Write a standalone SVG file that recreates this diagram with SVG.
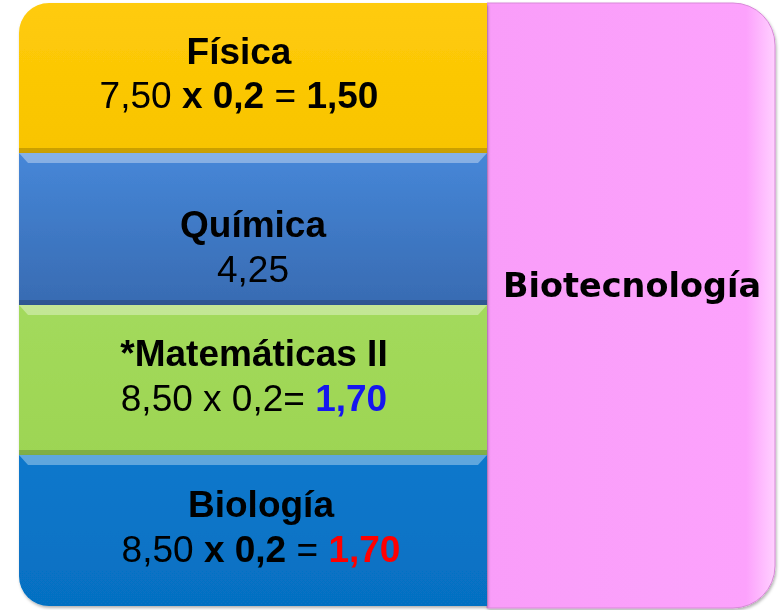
<svg xmlns="http://www.w3.org/2000/svg" width="781" height="610" viewBox="0 0 781 610">
<defs>
<linearGradient id="gY" x1="0" y1="0" x2="0" y2="1"><stop offset="0" stop-color="#FFCB0A"/><stop offset="1" stop-color="#F8C400"/></linearGradient>
<linearGradient id="gB" x1="0" y1="0" x2="0" y2="1"><stop offset="0" stop-color="#4687D8"/><stop offset="1" stop-color="#386BB2"/></linearGradient>
<linearGradient id="gG" x1="0" y1="0" x2="0" y2="1"><stop offset="0" stop-color="#A3DA5C"/><stop offset="1" stop-color="#9DD553"/></linearGradient>
<linearGradient id="gD" x1="0" y1="0" x2="0" y2="1"><stop offset="0" stop-color="#0A78CC"/><stop offset="1" stop-color="#0670C2"/></linearGradient>
<linearGradient id="gP" x1="0" y1="0" x2="1" y2="0"><stop offset="0" stop-color="#F99DF9"/><stop offset="0.9" stop-color="#FCA2FC"/><stop offset="1" stop-color="#FFD0FF"/></linearGradient>
<filter id="sh" x="-5%" y="-5%" width="110%" height="110%"><feDropShadow dx="1" dy="2" stdDeviation="1.5" flood-color="#000" flood-opacity="0.3"/></filter>
</defs>
<style>
.t{font-family:"Liberation Sans",Arial,sans-serif;font-size:37px;fill:#000;text-anchor:middle}
.b{font-weight:bold}
.hl{fill:#fff;opacity:0.35}
.dk{fill:#000;opacity:0.18}
</style>

<g id="biotecnologia" filter="url(#sh)">
<path d="M487,3 H733 A42,42 0 0 1 775,45 V566 A42,42 0 0 1 733,608 H487 Z" fill="url(#gP)" stroke="#D889D8" stroke-width="1"/>
<text x="632" y="297" font-family="'DejaVu Sans',sans-serif" font-weight="bold" font-size="33" text-anchor="middle" textLength="258" lengthAdjust="spacingAndGlyphs">Biotecnología</text>
</g>

<g id="fisica" filter="url(#sh)">
<path d="M19,33 A30,30 0 0 1 49,3 H487 V153 H19 Z" fill="url(#gY)"/>
<path d="M19,148 H487 V153 H19 Z" class="dk"/>
<text class="t b" x="239" y="64">Física</text>
<text class="t" x="239" y="108">7,50 <tspan class="b">x 0,2</tspan> = <tspan class="b">1,50</tspan></text>
</g>

<g id="quimica" filter="url(#sh)">
<rect x="19" y="153" width="468" height="152" fill="url(#gB)"/>
<path d="M19,153 H487 L478,163 H28 Z" class="hl"/>
<path d="M19,300 H487 V305 H19 Z" class="dk"/>
<text class="t b" x="253" y="237">Química</text>
<text class="t" x="253" y="282">4,25</text>
</g>

<g id="matematicas" filter="url(#sh)">
<rect x="19" y="305" width="468" height="150" fill="url(#gG)"/>
<path d="M19,305 H487 L478,315 H28 Z" class="hl"/>
<path d="M19,450 H487 V455 H19 Z" class="dk"/>
<text class="t b" x="254" y="366">*Matemáticas II</text>
<text class="t" x="254" y="411">8,50 x 0,2= <tspan class="b" fill="#1414F0">1,70</tspan></text>
</g>

<g id="biologia" filter="url(#sh)">
<path d="M19,455 H487 V606 H49 A30,30 0 0 1 19,576 Z" fill="url(#gD)"/>
<path d="M19,455 H487 L478,465 H28 Z" class="hl"/>
<text class="t b" x="261" y="517">Biología</text>
<text class="t" x="261" y="562">8,50 <tspan class="b">x 0,2</tspan> = <tspan class="b" fill="#FF0000">1,70</tspan></text>
</g>

<g id="connectors"></g>
</svg>
